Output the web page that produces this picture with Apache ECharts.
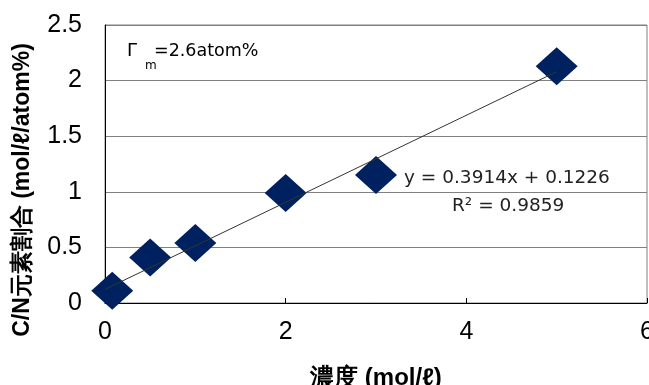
<!DOCTYPE html>
<html>
<head>
<meta charset="utf-8">
<script src="https://cdn.jsdelivr.net/npm/echarts@6/dist/echarts.min.js"></script>
<style>
  html, body { margin: 0; padding: 0; background: #fff; }
  #chart { width: 649px; height: 385px; }
</style>
</head>
<body>
<div id="chart"></div>
<script>
// Measured C/N ratio versus concentration
const concentration = [0.08, 0.5, 1, 2, 3, 5];
const cnRatio = [0.11, 0.41, 0.54, 0.99, 1.15, 2.13];

// Linear least-squares fit as reported
const slope = 0.3914;
const intercept = 0.1226;
const rSquared = 0.9859;
const fitRange = [0, 5];

const fitLine = fitRange.map(x => [x, slope * x + intercept]);
const points = concentration.map((x, i) => [x, cnRatio[i]]);

const sans = '"Liberation Sans", Arial, sans-serif';
const wide = '"DejaVu Sans", sans-serif';
const chart = echarts.init(document.getElementById('chart'));

chart.setOption({
  animation: false,
  grid: {
    left: 105, top: 25, right: 2, bottom: 82,
    outerBoundsMode: 'none',
    containLabel: false,
    show: true, borderColor: '#808080', borderWidth: 1
  },
  xAxis: {
    type: 'value', min: 0, max: 6, interval: 2,
    name: '濃度 (mol/ℓ)', nameLocation: 'middle', nameGap: 63,
    nameTextStyle: { fontFamily: sans, fontSize: 24, fontWeight: 'bold', color: '#000' },
    axisLine: { show: true, lineStyle: { color: '#000', width: 1 } },
    axisTick: { show: true, inside: true, length: 5, lineStyle: { color: '#000' } },
    axisLabel: { fontFamily: sans, fontSize: 25, color: '#000', margin: 17 },
    splitLine: { show: false }
  },
  yAxis: {
    type: 'value', min: 0, max: 2.5, interval: 0.5,
    axisLine: { show: true, lineStyle: { color: '#000', width: 1 } },
    axisTick: { show: false },
    axisLabel: {
      fontFamily: sans, fontSize: 25, color: '#000', margin: 23,
      formatter: v => String(v)
    },
    splitLine: { show: true, lineStyle: { color: '#808080', width: 1 } }
  },
  series: [
    {
      type: 'line',
      data: fitLine,
      symbol: 'none',
      lineStyle: { color: '#333', width: 1 },
      z: 3
    },
    {
      type: 'scatter',
      data: points,
      symbol: 'diamond',
      symbolSize: [42, 38],
      itemStyle: { color: '#00215f', opacity: 1 },
      z: 2
    }
  ],
  graphic: [
    {
      type: 'text', x: 23, y: 190, rotation: Math.PI / 2,
      style: {
        text: 'C/N元素割合 (mol/ℓ/atom%)', font: 'bold 23px ' + sans, fill: '#000',
        align: 'center', verticalAlign: 'middle'
      }
    },
    {
      type: 'text', x: 127, y: 51,
      style: { text: 'Γ', font: '18px ' + wide, fill: '#000', verticalAlign: 'middle' }
    },
    {
      type: 'text', x: 145, y: 66,
      style: { text: 'm', font: '12px ' + wide, fill: '#000', verticalAlign: 'middle' }
    },
    {
      type: 'text', x: 154, y: 51,
      style: { text: '=2.6atom%', font: '17.5px ' + wide, fill: '#000', verticalAlign: 'middle' }
    },
    {
      type: 'text', x: 404, y: 178,
      style: { text: 'y = ' + slope + 'x + ' + intercept, font: '18.5px ' + wide, fill: '#222', verticalAlign: 'middle' }
    },
    {
      type: 'text', x: 452, y: 206,
      style: { text: 'R² = ' + rSquared, font: '18.5px ' + wide, fill: '#222', verticalAlign: 'middle' }
    }
  ]
});
</script>
</body>
</html>
